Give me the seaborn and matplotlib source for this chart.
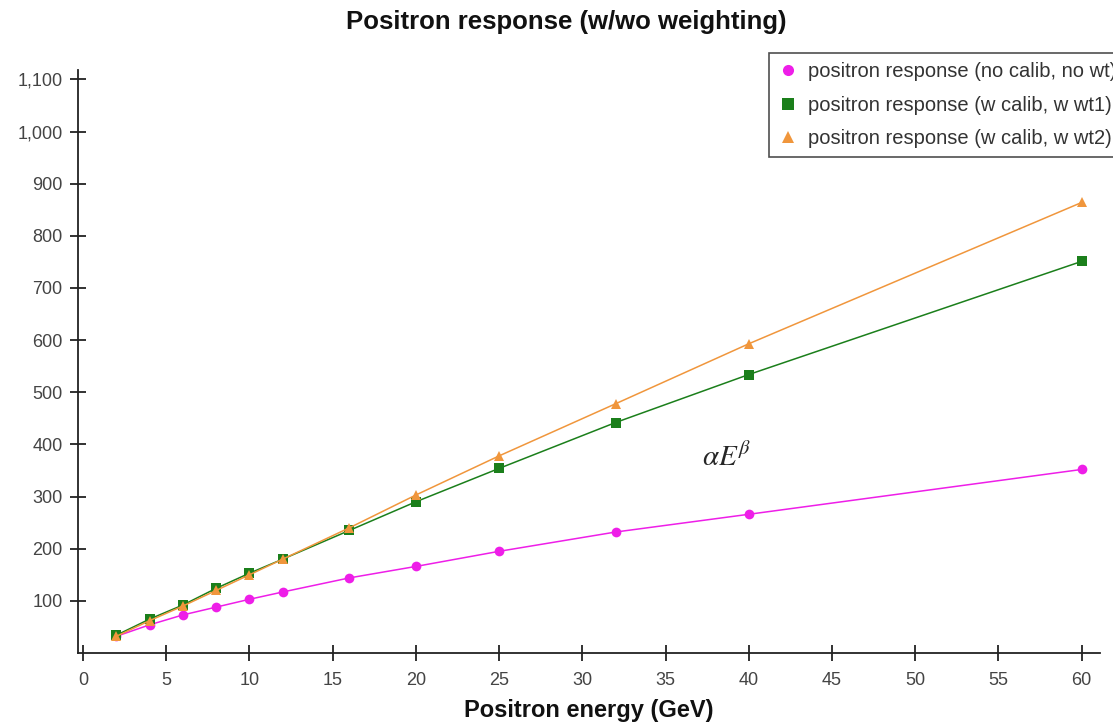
import matplotlib
matplotlib.use("Agg")
import matplotlib.pyplot as plt
import matplotlib.ticker as mticker
from matplotlib.lines import Line2D
import seaborn as sns
import pandas as pd

energy = [2, 4, 6, 8, 10, 12, 16, 20, 25, 32, 40, 60]
no_calib = [32, 54, 73, 88, 103, 117, 144, 166, 195, 232, 266, 352]
wt1 = [34, 65, 92, 124, 153, 180, 235, 290, 354, 442, 534, 751]
wt2 = [32, 62, 90, 120, 150, 180, 240, 303, 378, 478, 593, 864]
series_names = ["positron response (no calib, no wt)",
                "positron response (w calib, w wt1)",
                "positron response (w calib, w wt2)"]
colors = ["#ee1ee8", "#1b7f1b", "#f0963c"]
markers = ["o", "s", "^"]

rows = []
for name, vals in zip(series_names, [no_calib, wt1, wt2]):
    for e, v in zip(energy, vals):
        rows.append({"energy": e, "response": v, "series": name})
df = pd.DataFrame(rows)

sns.set_style("white")
plt.rcParams['font.family'] = ['Liberation Sans', 'DejaVu Sans']

fig = plt.figure(figsize=(11.13, 7.25), dpi=100)
ax = fig.add_axes([78/1113, 1 - 653/725, (1100-78)/1113, (653-70)/725])

sns.lineplot(data=df, x="energy", y="response", hue="series", style="series",
             palette=dict(zip(series_names, colors)),
             markers=dict(zip(series_names, markers)),
             dashes=False, markersize=7, linewidth=1.1, markeredgewidth=0,
             legend=False, ax=ax)

ax.set_xlim(-0.3, 61.1)
ax.set_ylim(0, 1118)
ax.set_xticks(range(0, 61, 5))
ax.set_yticks(range(100, 1101, 100))
ax.yaxis.set_major_formatter(mticker.FuncFormatter(lambda v, p: f"{int(v):,}"))
for s in ["top", "right"]:
    ax.spines[s].set_visible(False)
for s in ["left", "bottom"]:
    ax.spines[s].set_color("#222222")
    ax.spines[s].set_linewidth(1.3)
ax.tick_params(axis="both", which="major", bottom=True, left=True,
               direction="inout", length=12, width=1.3, color="#222222",
               labelsize=13, labelcolor="#444444")
ax.tick_params(axis="y", pad=5)
ax.tick_params(axis="x", pad=8)
ax.set_xlabel("Positron energy (GeV)", fontsize=17, fontweight="bold", labelpad=7,
              color="#111111")
ax.set_ylabel("")
fig.suptitle("Positron response (w/wo weighting)", fontsize=18.5, fontweight="bold",
             x=566/1113, y=1 - 10/725, va="top", color="#111111")

ax.text(37.2, 358, r"$\alpha E^{\beta}$", fontsize=21, math_fontfamily="stix")

handles = [Line2D([], [], linestyle="none", marker=m, color=c, markersize=8,
                  markeredgewidth=0) for m, c in zip(markers, colors)]
leg = fig.legend(handles, series_names, loc="upper left",
                 bbox_to_anchor=(769/1113, 1 - 53/725), frameon=True,
                 fontsize=14.5, handletextpad=0.5, borderpad=0.45,
                 labelspacing=0.72, handlelength=1.0, borderaxespad=0,
                 fancybox=False)
leg.get_frame().set_edgecolor("#222222")
leg.get_frame().set_linewidth(1.2)
for t in leg.get_texts():
    t.set_color("#333333")

fig.savefig("out.png", dpi=100)
